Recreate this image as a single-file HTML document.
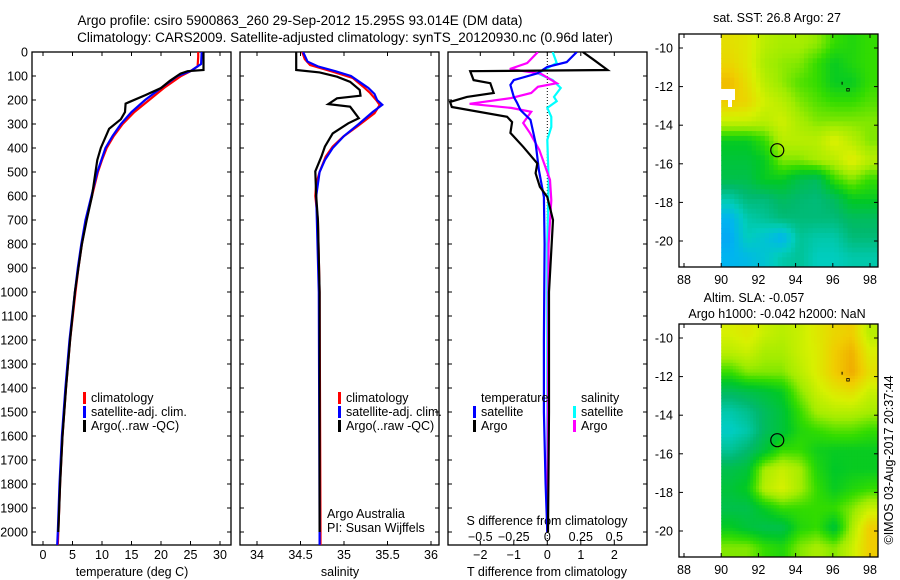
<!DOCTYPE html>
<html><head><meta charset="utf-8">
<style>
body{margin:0;background:#fff;}
svg{display:block;font-family:"Liberation Sans",sans-serif;}
text{font-size:12.5px;fill:#000;}
</style></head>
<body>
<svg id="c" width="900" height="580" viewBox="0 0 900 580" xmlns="http://www.w3.org/2000/svg">
<defs>
<clipPath id="cp1"><rect x="32" y="52" width="199" height="493"/></clipPath>
<clipPath id="cp2"><rect x="240" y="52" width="199" height="493"/></clipPath>
<clipPath id="cp3"><rect x="448" y="52" width="199" height="493"/></clipPath>
<clipPath id="cm1"><rect x="679" y="34" width="199" height="233"/></clipPath>
<clipPath id="cm2"><rect x="679" y="324" width="199" height="233"/></clipPath>
</defs>
<text x="300" y="25" text-anchor="middle" style="font-size:13.5px">Argo profile: csiro 5900863_260 29-Sep-2012 15.295S 93.014E (DM data)</text>
<text x="345" y="42" text-anchor="middle" style="font-size:13.5px">Climatology: CARS2009. Satellite-adjusted climatology: synTS_20120930.nc (0.96d later)</text>
<g id="g"></g>
</svg>
<script>
// ---- temperature profiles (depth m, deg C)
const tClimDepth=[0,20,60,80,100,150,200,250,300,350,400,450,500,600,700,800,900,1000,1200,1400,1600,1800,2000,2055];
const tClimVal=[26.3,26.3,26.2,25,23.4,20.5,18,15.5,13.5,12,10.8,10,9.3,8.3,7.3,6.6,6.0,5.5,4.6,3.9,3.3,2.9,2.6,2.5];
const tSatDepth=[0,50,80,100,150,200,250,300,350,400,500,600,700,800,900,1000,1200,1400,1600,1800,2000,2055];
const tSatVal=[26.9,26.8,25,22.8,20,17.3,15,13.2,11.8,10.6,9.2,8.2,7.2,6.5,5.9,5.4,4.5,3.8,3.2,2.8,2.5,2.4];
const tArgoDepth=[0,75,80,90,120,150,180,215,250,280,320,400,450,500,600,700,800,900,1000,1200,1400,1600,1800,2000];
const tArgoVal=[27.2,27.2,24.5,23.3,21.5,20,17.3,14.0,13.9,13.2,11.2,9.8,9.2,8.9,8.3,7.4,6.6,6.0,5.4,4.6,3.9,3.3,2.9,2.6];
// ---- salinity profiles
const sClimDepth=[0,30,54,82,108,144,171,200,221,255,311,353,394,436,500,550,600,700,1000,2000,2055];
const sClimVal=[34.52,34.55,34.61,34.87,35.1,35.22,35.3,35.37,35.41,35.35,35.15,34.99,34.87,34.79,34.72,34.68,34.67,34.7,34.72,34.73,34.73];
const sSatDepth=[0,40,60,80,100,130,150,175,200,220,250,300,350,400,450,500,600,1000,2000,2055];
const sSatVal=[34.53,34.58,34.7,34.9,35.08,35.2,35.28,35.35,35.38,35.44,35.33,35.17,35.0,34.87,34.78,34.72,34.68,34.71,34.72,34.72];
const sArgoDepth=[0,75,85,103,124,158,182,193,217,228,242,276,297,339,394,436,497,600,700,1000,2000];
const sArgoVal=[34.45,34.45,34.72,34.92,35.07,35.18,35.19,34.92,34.82,35.07,35.1,35.17,35.05,34.87,34.78,34.74,34.67,34.68,34.7,34.72,34.72];
// ---- differences from climatology
const dTSatDepth=[0,42,62,89,117,137,187,212,242,283,379,492,604,800,1200,1500,1800,2000];
const dTSatVal=[0.88,0.58,0,-0.3,-1.0,-1.1,-1.0,-0.9,-0.8,-0.5,-0.35,-0.25,-0.1,-0.08,-0.1,-0.1,-0.05,0];
const dTArgoDepth=[0,30,75,80,117,130,171,187,208,229,270,292,337,395,464,505,562,604,700,1000,1500,2000];
const dTArgoVal=[1.06,1.36,1.8,-2.3,-2.2,-1.7,-1.6,-2.4,-2.9,-2.85,-1.2,-1.05,-1.1,-0.72,-0.3,-0.35,-0.22,0,0.17,0.05,0.05,0.02];
const dSSatDepth=[0,46,89,117,150,187,205,233,270,312,366,533,800,2000];
const dSSatVal=[0.04,0.07,-0.07,0.04,0.1,0.05,0.07,0,0.03,0.03,0,0.01,0,0];
const dSArgoDepth=[0,46,71,90,130,145,171,192,216,233,249,296,337,408,533,617,800,2000];
const dSArgoVal=[-0.07,-0.15,-0.28,-0.05,0.07,-0.07,-0.12,-0.27,-0.58,-0.27,-0.12,-0.18,-0.13,-0.06,0.02,0.03,0.01,0.0];
// ---- maps (values 0..1 on colour scale), rows from lat -9.3 southward, cols from lon 90 eastward
const sstGrid=[
[0.68,0.66,0.6,0.58,0.58,0.56,0.5,0.48,0.5],
[0.7,0.66,0.58,0.56,0.55,0.5,0.45,0.48,0.5],
[0.75,0.68,0.6,0.56,0.52,0.5,0.45,0.45,0.5],
[0.72,0.7,0.63,0.6,0.55,0.52,0.5,0.5,0.52],
[0.62,0.62,0.6,0.63,0.58,0.55,0.55,0.55,0.55],
[0.45,0.45,0.5,0.6,0.6,0.6,0.65,0.6,0.55],
[0.42,0.42,0.45,0.55,0.55,0.58,0.6,0.66,0.6],
[0.4,0.4,0.45,0.45,0.4,0.38,0.5,0.55,0.5],
[0.3,0.35,0.35,0.38,0.36,0.35,0.38,0.45,0.45],
[0.2,0.3,0.32,0.35,0.35,0.35,0.35,0.38,0.38],
[0.18,0.28,0.25,0.2,0.32,0.3,0.3,0.35,0.35],
[0.2,0.22,0.25,0.3,0.32,0.28,0.28,0.3,0.3]];
const slaGrid=[
[0.64,0.66,0.62,0.6,0.62,0.66,0.7,0.72,0.6],
[0.6,0.62,0.58,0.58,0.62,0.65,0.72,0.77,0.65],
[0.5,0.55,0.55,0.55,0.6,0.65,0.72,0.78,0.68],
[0.38,0.4,0.42,0.45,0.55,0.62,0.66,0.68,0.62],
[0.3,0.33,0.38,0.42,0.5,0.58,0.6,0.6,0.58],
[0.27,0.3,0.38,0.42,0.48,0.5,0.52,0.52,0.5],
[0.32,0.36,0.42,0.5,0.5,0.46,0.45,0.45,0.45],
[0.4,0.42,0.58,0.62,0.58,0.48,0.44,0.45,0.45],
[0.42,0.45,0.6,0.64,0.58,0.5,0.45,0.48,0.5],
[0.4,0.4,0.45,0.5,0.5,0.5,0.5,0.55,0.62],
[0.45,0.42,0.4,0.4,0.48,0.5,0.42,0.58,0.72],
[0.55,0.55,0.5,0.48,0.55,0.58,0.55,0.62,0.72]];
const depthTicks=[0,100,200,300,400,500,600,700,800,900,1000,1100,1200,1300,1400,1500,1600,1700,1800,1900,2000];
const tTicks=[0,5,10,15,20,25,30];
const sTicks=[34,34.5,35,35.5,36];
const dTTicks=[-2,-1,0,1,2];
const dSTicks=[-0.5,-0.25,0,0.25,0.5];
const dSTickLabels=['\u22120.5','\u22120.25','0','0.25','0.5'];
const latTicks=[-10,-12,-14,-16,-18,-20];
const lonTicks=[88,90,92,94,96,98];

const NS="http://www.w3.org/2000/svg";
const G=document.getElementById('g');
function mk(tag,attrs,parent){const e=document.createElementNS(NS,tag);for(const k in attrs)e.setAttribute(k,attrs[k]);(parent||G).appendChild(e);return e;}
function txt(x,y,s,anchor,parent,extra){const e=mk('text',Object.assign({x:x,y:y,'text-anchor':anchor||'start'},extra||{}),parent);e.textContent=s;return e;}

const yD=d=>52+d*0.24;
const xT=v=>43+v*5.9;
const xS=v=>257+(v-34)*87;
const xD=v=>547.3+v*33.5;
const xDS=s=>xD(s*4);

function panel(x0,name){
  const r=mk('rect',{x:x0,y:52,width:199,height:493,fill:'none',stroke:'#000','stroke-width':1.3});
  
  
  depthTicks.forEach(d=>{const y=yD(d);mk('line',{x1:x0,x2:x0+4,y1:y,y2:y,stroke:'#000'});mk('line',{x1:x0+199,x2:x0+195,y1:y,y2:y,stroke:'#000'});});
}
function xticks(vals,fx){vals.forEach(v=>{const x=fx(v);mk('line',{x1:x,x2:x,y1:545,y2:541,stroke:'#000'});mk('line',{x1:x,x2:x,y1:52,y2:56,stroke:'#000'});});}
function line(depths,vals,fx,color,clip,name){
  const pts=depths.map((d,i)=>fx(vals[i]).toFixed(1)+','+yD(d).toFixed(1)).join(' ');
  const p=mk('polyline',{points:pts,fill:'none',stroke:color,'stroke-width':2.2,'clip-path':'url(#'+clip+')'});
  
  
}
// Panel 1
panel(32,'temperature-panel');
depthTicks.forEach(d=>{const t=txt(28,yD(d)+4.5,String(d),'end');});
xticks(tTicks,xT);
tTicks.forEach(v=>txt(xT(v),559,String(v),'middle'));
const t1=txt(132,576,'temperature (deg C)','middle');
line(tClimDepth,tClimVal,xT,'#f00','cp1','temp-climatology-line');
line(tSatDepth,tSatVal,xT,'#00f','cp1','temp-satellite-line');
line(tArgoDepth,tArgoVal,xT,'#000','cp1','temp-argo-line');
// Panel 2
panel(240,'salinity-panel');
xticks(sTicks,xS);
sTicks.forEach(v=>txt(xS(v),559,String(v),'middle'));
const t2=txt(340,576,'salinity','middle');
line(sClimDepth,sClimVal,xS,'#f00','cp2','sal-climatology-line');
line(sSatDepth,sSatVal,xS,'#00f','cp2','sal-satellite-line');
line(sArgoDepth,sArgoVal,xS,'#000','cp2','sal-argo-line');
txt(327,518,'Argo Australia','start');
txt(327,532,'PI: Susan Wijffels','start');
// Panel 3
panel(448,'difference-panel');
xticks(dTTicks,xD);
dTTicks.forEach(v=>txt(xD(v),559,v<0?'\u2212'+Math.abs(v):String(v),'middle'));
dSTicks.forEach((v,i)=>txt(xDS(v),541,dSTickLabels[i],'middle'));
const t3=txt(547,576,'T difference from climatology','middle');
const t4=txt(547,525,'S difference from climatology','middle');
mk('line',{x1:547.3,x2:547.3,y1:52,y2:545,stroke:'#000','stroke-dasharray':'1,2'});
line(dSSatDepth,dSSatVal,xDS,'#0ff','cp3','sal-diff-satellite-line');
line(dSArgoDepth,dSArgoVal,xDS,'#f0f','cp3','sal-diff-argo-line');
line(dTSatDepth,dTSatVal,xD,'#00f','cp3','temp-diff-satellite-line');
line(dTArgoDepth,dTArgoVal,xD,'#000','cp3','temp-diff-argo-line');

// Legends
function legendGroup(x,name){const g=mk('g',{});
  mk('rect',{x:x,y:392,width:3,height:12,fill:'#f00'},g);txt(x+8,402,'climatology','start',g);
  mk('rect',{x:x,y:406,width:3,height:12,fill:'#00f'},g);txt(x+8,416,'satellite-adj. clim.','start',g);
  mk('rect',{x:x,y:420,width:3,height:12,fill:'#000'},g);txt(x+8,430,'Argo(..raw -QC)','start',g);}
legendGroup(83,'legend-temperature');
legendGroup(338,'legend-salinity');
const lg=mk('g',{});
txt(481,402,'temperature','start',lg);
mk('rect',{x:473,y:406,width:3,height:12,fill:'#00f'},lg);txt(481,416,'satellite','start',lg);
mk('rect',{x:473,y:420,width:3,height:12,fill:'#000'},lg);txt(481,430,'Argo','start',lg);
txt(581,402,'salinity','start',lg);
mk('rect',{x:573,y:406,width:3,height:12,fill:'#0ff'},lg);txt(581,416,'satellite','start',lg);
mk('rect',{x:573,y:420,width:3,height:12,fill:'#f0f'},lg);txt(581,430,'Argo','start',lg);

// Colormap
const stops=[[0.1,[20,120,255]],[0.2,[0,180,240]],[0.28,[0,205,190]],[0.36,[0,185,110]],[0.44,[0,200,40]],[0.5,[50,220,0]],[0.57,[160,236,0]],[0.64,[215,240,0]],[0.72,[240,205,0]],[0.8,[240,160,0]]];
function cmap(v){if(v<=stops[0][0])return 'rgb('+stops[0][1]+')';
  for(let i=1;i<stops.length;i++){if(v<=stops[i][0]){const a=stops[i-1],b=stops[i],t=(v-a[0])/(b[0]-a[0]);return 'rgb('+a[1].map((c,j)=>Math.round(c+(b[1][j]-c)*t)).join(',')+')';}}
  return 'rgb('+stops[stops.length-1][1]+')';}
function mapPanel(y0,grid,clip,name,sub,notch){
  const lonX=l=>684+(l-88)*18.6;
  const latY=l=>y0+14+(-10-l)*19.3;
  const g=mk('g',{'clip-path':'url(#'+clip+')'});
  
  
  const R=grid.length,C=grid[0].length;
  const x0=lonX(90),x1=878, top=y0, bot=y0+233;
  const cw=(x1-x0)/C, rh=(bot-top)/R;
  for(let i=0;i<R*sub;i++)for(let j=0;j<C*sub;j++){
    const fr=Math.min(Math.max((i+0.5)/sub-0.5,0),R-1), fc=Math.min(Math.max((j+0.5)/sub-0.5,0),C-1);
    const r0=Math.floor(fr),c0=Math.floor(fc),r1=Math.min(r0+1,R-1),c1=Math.min(c0+1,C-1),tr=fr-r0,tc=fc-c0;
    const v=grid[r0][c0]*(1-tr)*(1-tc)+grid[r0][c1]*(1-tr)*tc+grid[r1][c0]*tr*(1-tc)+grid[r1][c1]*tr*tc;
    const cell=mk('rect',{x:(x0+j*cw/sub).toFixed(2),y:(top+i*rh/sub).toFixed(2),width:(cw/sub+0.6).toFixed(2),height:(rh/sub+0.6).toFixed(2),fill:cmap(v)},g);
    
  }
  if(notch){
    mk('rect',{x:719,y:89,width:16,height:11,fill:'#fff'},g);
    mk('rect',{x:728,y:99,width:4,height:8,fill:'#fff'},g);
  }
  const fr=mk('rect',{x:679,y:y0,width:199,height:233,fill:'none',stroke:'#000','stroke-width':1.3});
  
  latTicks.forEach(l=>{const y=latY(l);mk('line',{x1:679,x2:683,y1:y,y2:y,stroke:'#000'});mk('line',{x1:878,x2:874,y1:y,y2:y,stroke:'#000'});txt(673,y+4.5,'-'+Math.abs(l),'end');});
  lonTicks.forEach(l=>{const x=lonX(l);mk('line',{x1:x,x2:x,y1:y0+233,y2:y0+229,stroke:'#000'});mk('line',{x1:x,x2:x,y1:y0,y2:y0+4,stroke:'#000'});txt(x,y0+250,String(l),'middle');});
  const c=mk('circle',{cx:lonX(93.014),cy:latY(-15.295),r:6.5,fill:'none',stroke:'#000','stroke-width':1.2});
  
  mk('rect',{x:lonX(96.75),y:latY(-12.1),width:2.5,height:2.5,fill:'none',stroke:'#000','stroke-width':0.8});
  mk('line',{x1:lonX(96.5),x2:lonX(96.5),y1:latY(-11.75),y2:latY(-11.9),stroke:'#000'});
}
mapPanel(34,sstGrid,'cm1','sst-map',4,true);
mapPanel(324,slaGrid,'cm2','sla-map',6,false);
txt(777,22,'sat. SST: 26.8 Argo: 27','middle');
txt(754,302,'Altim. SLA: -0.057','middle');
txt(777,318,'Argo h1000: -0.042 h2000: NaN','middle');
const cr=txt(0,0,'\u00A9IMOS 03-Aug-2017 20:37:44','middle',null,{transform:'translate(893,460) rotate(-90)'});

</script>
</body></html>
